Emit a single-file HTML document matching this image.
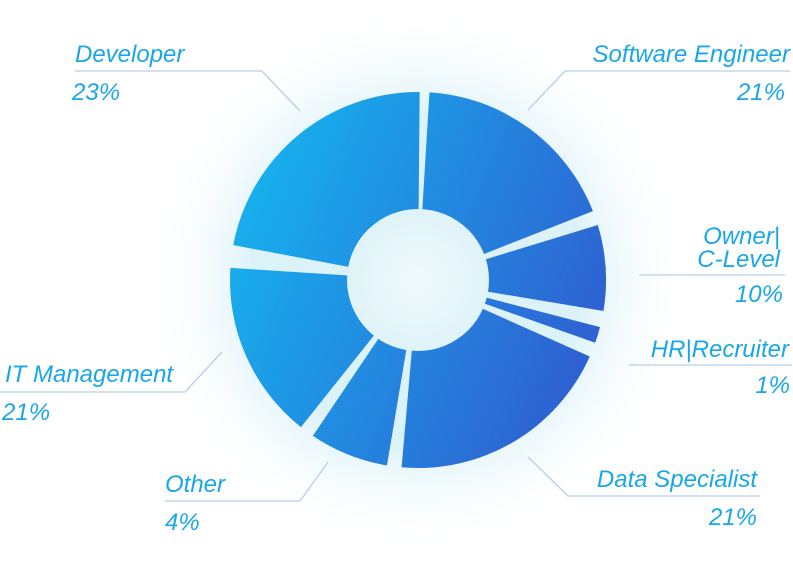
<!DOCTYPE html>
<html><head><meta charset="utf-8"><style>
html,body{margin:0;padding:0;background:#fff;width:793px;height:561px;overflow:hidden}
text{font-family:"Liberation Sans",sans-serif;font-style:italic;font-size:24px;fill:#1aa7e8}
</style></head><body>
<svg id="s" width="793" height="561" viewBox="0 0 793 561" xmlns="http://www.w3.org/2000/svg">
<defs>
<radialGradient id="glow" cx="418" cy="280" r="270" gradientUnits="userSpaceOnUse">
<stop offset="0.6" stop-color="#d6f0f7" stop-opacity="0.9"/>
<stop offset="1" stop-color="#ffffff" stop-opacity="0"/>
</radialGradient>
<linearGradient id="g" x1="230" y1="200" x2="605" y2="360" gradientUnits="userSpaceOnUse">
<stop offset="0" stop-color="#16b2ee"/>
<stop offset="1" stop-color="#2f5dd0"/>
</linearGradient>
<radialGradient id="hole" cx="418" cy="280" r="72" gradientUnits="userSpaceOnUse">
<stop offset="0" stop-color="#f0fafd"/>
<stop offset="1" stop-color="#dff3f8"/>
</radialGradient>
</defs>
<circle cx="418" cy="280" r="270" fill="url(#glow)"/>
<g id="segs" fill="url(#g)"></g>
<circle cx="418" cy="280" r="71" fill="url(#hole)"/>
<g stroke="#b9cdea" stroke-width="1.3" fill="none">
<polyline points="75,71 262,71 300,111"/>
<polyline points="790,71 565,71 528,110"/>
<polyline points="785,275 639,275"/>
<polyline points="792,365 629,365"/>
<polyline points="760,496 568,496 528,457"/>
<polyline points="165,501 300,501 328,462"/>
<polyline points="0,392 185,392 222,352"/>
</g>
<text x="75" y="62">Developer</text>
<text x="72" y="100">23%</text>
<text x="790" y="62" text-anchor="end">Software Engineer</text>
<text x="785" y="100" text-anchor="end">21%</text>
<text x="780" y="244" text-anchor="end">Owner|</text>
<text x="780" y="267" text-anchor="end">C-Level</text>
<text x="783" y="302" text-anchor="end">10%</text>
<text x="789" y="357" text-anchor="end">HR|Recruiter</text>
<text x="790" y="393" text-anchor="end">1%</text>
<text x="757" y="487" text-anchor="end">Data Specialist</text>
<text x="757" y="525" text-anchor="end">21%</text>
<text x="165" y="492">Other</text>
<text x="165" y="530">4%</text>
<text x="5" y="382">IT Management</text>
<text x="2" y="420">21%</text>
</svg>
<script>
var cx=418,cy=280,R=188,r=60;
var segs=[[3.5,68.5],[73,99.5],[104.5,109.5],[114,185],[189.5,214],[218.5,273.7],[280.7,360.5]];
function pt(a,rad){var t=a*Math.PI/180;return [cx+rad*Math.sin(t),cy-rad*Math.cos(t)];}
var g=document.getElementById('segs'),h='';
segs.forEach(function(s){var a=pt(s[0],R),b=pt(s[1],R),c=pt(s[1],r),d=pt(s[0],r);var l=(s[1]-s[0])>180?1:0;
h+='<path d="M'+a+' A'+R+','+R+' 0 '+l+' 1 '+b+' L'+c+' A'+r+','+r+' 0 '+l+' 0 '+d+' Z"/>';});
g.innerHTML=h;
</script>
</body></html>
